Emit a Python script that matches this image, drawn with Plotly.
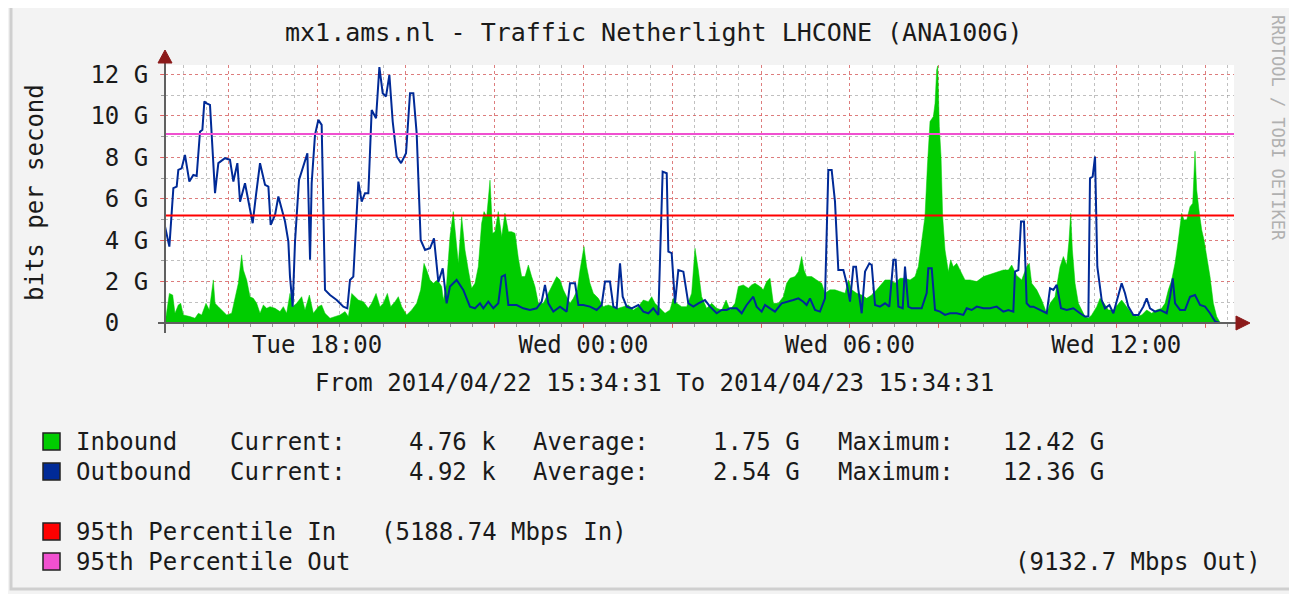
import pandas as pd
import plotly.graph_objects as go

# ---------------- data (minutes since start, Gbit/s) ----------------
START = pd.Timestamp("2014-04-22 14:34:31")

OUT_MIN = [
    0, 5.9, 11.3, 15.8, 18.0, 22.5, 27.0, 32.9, 38.3, 42.8,
    47.3, 50.5, 53.2, 56.3, 60.8, 63.1, 67.6, 72.1, 81.1, 87.8,
    92.4, 97.8, 101.4, 108.1, 112.6, 118.5, 123.0, 128.4, 135.2, 139.7,
    142.8, 148.7, 153.2, 157.7, 162.2, 166.7, 168.9, 172.5, 175.7, 181.1,
    187.0, 192.4, 196.0, 198.2, 202.7, 207.2, 211.7, 216.2, 223.0, 232.0,
    241.0, 246.4, 250.0, 254.5, 261.3, 265.8, 270.3, 274.8, 279.3, 285.2,
    289.7, 294.2, 298.7, 303.2, 307.7, 313.1, 319.0, 325.7, 331.1, 335.6,
    340.1, 345.5, 351.4, 358.1, 363.5, 369.4, 375.3,
    380.6, 385.1, 394.1, 403.1, 412.1, 418.9, 425.7, 430.2, 436.9, 443.7,
    450.4, 455.0, 459.4, 464.0, 475.2, 484.2, 493.2, 502.2, 509.0, 513.5,
    518.0, 524.8, 533.8, 542.8, 547.3, 554.1, 558.6, 565.3, 574.3, 583.3,
    590.1, 594.6, 601.3, 605.9, 610.4, 614.9, 618.5, 623.9, 630.6, 639.6,
    646.4, 653.2, 659.9, 666.7, 672.5, 678.0, 680.2, 684.7, 689.2, 693.7,
    700.5, 707.2, 714.0, 720.7, 729.7, 736.5, 745.5, 752.3, 759.0,
    763.5, 772.5, 779.3, 786.0, 795.0, 799.5, 806.3, 810.8, 817.6, 824.3,
    833.3, 842.3, 849.1, 855.9, 862.6, 867.1, 871.6, 878.4, 885.1, 891.9,
    896.4, 900.9, 905.4, 909.9, 916.7, 921.2, 925.7, 930.2, 933.8, 937.0,
    941.5, 946.0, 951.8, 955.0, 959.5, 966.2, 973.0, 978.8, 984.3, 987.4,
    991.0, 996.9, 1000.0, 1004.5, 1009.0, 1015.8, 1022.5, 1029.3, 1031.5, 1036.1,
    1040.6, 1047.3, 1054.1, 1060.8, 1069.9, 1078.9, 1083.4, 1090.1, 1096.9, 1105.9,
    1114.9, 1123.9, 1132.9, 1139.7, 1146.4, 1148.7, 1153.2, 1156.8, 1160.8, 1164.4,
    1168.9,
    1173.5, 1182.5, 1191.5, 1196.0, 1200.5, 1205.0, 1210.8, 1218.5, 1227.5, 1236.5,
    1243.3, 1247.8, 1250.0, 1253.6, 1256.8, 1259.9, 1265.8, 1270.3, 1276.2, 1281.6,
    1288.4, 1292.8, 1297.3, 1301.8, 1308.6, 1315.4, 1322.1, 1326.6, 1331.1, 1337.9,
    1344.6, 1353.7, 1358.2, 1361.8, 1365.0, 1371.7, 1378.4, 1385.2, 1391.9, 1398.7,
    1405.5, 1412.2, 1419.0, 1425.7, 1439.3,
]
OUT_GBPS = [
    4.66, 3.69, 6.51, 6.59, 7.39, 7.47, 8.12, 6.83, 7.15, 7.10,
    9.24, 9.33, 10.70, 10.61, 10.53, 9.0, 6.27, 7.72, 7.96, 7.88,
    6.83, 7.72, 5.86, 6.75, 5.86, 4.82, 6.19, 7.72, 6.67, 6.59,
    4.74, 5.22, 6.11, 5.46, 4.90, 3.93, 2.24, 0.79, 3.93, 6.91,
    7.63, 8.20, 3.05, 6.75, 9.08, 9.81, 9.57, 1.60, 1.35, 1.11,
    0.79, 0.71, 2.08, 2.24, 6.83, 5.86, 6.27, 6.27, 10.29, 9.89,
    12.36, 11.10, 10.94, 11.98, 9.73, 8.04, 7.72, 8.20, 11.10, 11.10,
    9.16, 4.01, 3.53, 3.61, 4.09, 1.98, 2.64,
    0.95, 1.76, 2.08, 1.60, 0.79, 0.71, 0.95, 0.71, 1.03, 0.71,
    0.95, 2.24, 2.32, 0.87, 0.87, 0.71, 0.63, 0.71, 1.03, 1.84,
    0.95, 0.55, 0.79, 0.55, 1.92, 1.92, 0.87, 0.87, 0.79, 0.63,
    0.87, 2.0, 2.0, 0.79, 0.71, 2.88, 1.27, 0.79, 0.71, 0.87,
    0.55, 0.47, 0.71, 0.39, 7.31, 7.23, 3.45, 3.37, 0.95, 2.56,
    2.48, 0.95, 0.79, 0.95, 1.11, 0.79, 0.47, 0.63, 0.63,
    0.71, 0.71, 0.47, 0.87, 1.27, 0.79, 0.55, 0.87, 0.71, 0.55,
    0.95, 1.03, 1.11, 1.19, 1.03, 0.87, 1.19, 0.63, 0.55, 1.19,
    7.39, 7.39, 5.86, 2.56, 2.56, 1.92, 1.03, 2.72, 2.72, 1.60,
    0.47, 2.48, 2.88, 2.80, 0.87, 0.79, 0.95, 0.79, 3.05, 3.05,
    0.79, 0.71, 2.72, 0.79, 0.71, 0.71, 0.71, 1.44, 2.64, 2.64,
    0.63, 0.55, 0.39, 0.47, 0.47, 0.39, 0.71, 0.63, 0.79, 0.71,
    0.71, 0.79, 0.55, 0.63, 0.55, 2.48, 2.56, 4.90, 4.90, 0.95,
    0.79,
    0.79, 0.63, 0.47, 1.68, 1.60, 1.84, 0.71, 0.63, 0.71, 0.47,
    0.31, 0.31, 6.99, 7.07, 8.04, 2.72, 1.11, 0.71, 0.87, 0.47,
    1.44, 1.92, 1.44, 0.79, 0.39, 0.39, 0.79, 1.19, 0.71, 0.55,
    0.63, 0.47, 1.27, 2.16, 0.95, 0.63, 0.63, 1.27, 1.35, 0.87,
    0.79, 0.47, 0.08, 0.0, 0.0,
]

IN_MIN = [
    0, 1.4, 5.9, 10.4, 13.5, 18.0, 21.2, 24.8, 33.8, 40.5, 45.1,
    49.6, 55.4, 59.9, 65.3, 67.6, 72.1, 76.6, 83.3, 90.1, 94.6,
    99.1, 103.6, 105.9, 110.4, 114.9, 119.4, 123.9, 128.4, 132.9, 137.4,
    141.9, 148.7, 155.4, 159.9, 164.4, 168.9, 172.5, 177.9, 184.7, 189.2,
    195.1, 200.5, 207.2, 211.7, 216.2, 223.0, 229.7, 236.5, 243.3, 247.8,
    252.3, 256.8, 261.3, 268.1, 274.8, 279.3, 285.2, 290.6, 295.1, 300.5,
    305.0, 310.8, 315.3, 319.9, 326.6, 333.4, 340.1, 345.5, 350.0, 353.6,
    358.1, 362.6, 368.1, 373.9,
    376.1, 380.6, 385.1, 389.6, 391.9, 396.4, 400.9, 405.4, 409.9, 414.4,
    418.9, 423.4, 427.9, 431.1, 434.7, 439.2, 442.8, 445.9, 450.4, 455.0,
    459.4, 464.0, 468.5, 473.0, 477.5, 482.0, 486.5, 491.0, 495.5, 500.0,
    504.5, 511.3, 518.0, 524.8, 529.3, 533.8, 538.3, 542.8, 547.3, 551.8,
    557.2, 560.8, 566.2, 569.8, 574.3, 578.8, 585.6, 592.3, 599.1, 605.9,
    612.6, 619.4, 626.1, 632.9, 639.6, 646.4, 653.2, 657.7, 662.2, 668.9,
    675.7, 682.4, 686.9, 691.5, 698.2, 705.0, 711.7, 716.2, 720.7, 725.2,
    732.0, 738.8, 745.5, 752.3, 758.2,
    763.5, 770.3, 774.8, 781.5, 788.3, 792.8, 797.3, 804.0, 808.5, 813.1,
    817.6, 822.1, 828.8, 835.6, 840.1, 844.6, 851.3, 855.9, 860.4, 863.5,
    867.1, 873.9, 880.6, 887.4, 891.9, 898.6, 905.4, 912.2, 919.0, 923.4,
    928.0, 934.7, 941.5, 948.2, 955.0, 961.7, 968.5, 973.0, 979.7, 986.5,
    993.3, 1000.0, 1006.8, 1013.5, 1018.0, 1022.5, 1027.0, 1030.2, 1033.8, 1038.3,
    1040.6, 1042.8, 1044.2, 1046.4, 1048.7, 1050.9, 1054.1, 1058.6, 1061.7, 1065.3,
    1069.9, 1074.3, 1081.1, 1087.9, 1096.9, 1105.9, 1112.6, 1119.4, 1126.2, 1132.9,
    1139.7, 1144.2,
    1150.9, 1157.7, 1164.4, 1168.0, 1171.2, 1178.0, 1184.7, 1191.5, 1196.0, 1202.7,
    1209.5, 1214.0, 1218.5, 1221.7, 1223.9, 1226.2, 1229.8, 1234.3, 1238.8, 1243.3,
    1247.8, 1252.3, 1259.1, 1263.6, 1269.0, 1274.8, 1281.6, 1288.4, 1292.8, 1299.6,
    1306.3, 1313.1, 1319.9, 1326.6, 1333.4, 1340.1, 1346.9, 1351.4, 1355.9, 1360.4,
    1364.9, 1369.4, 1373.9, 1377.1, 1380.7, 1385.2, 1388.8, 1391.9, 1394.2, 1397.8,
    1401.0, 1404.1, 1407.7, 1412.2, 1416.7, 1421.2, 1425.7, 1439.3,
]
IN_GBPS = [
    0.6, 0.31, 1.43, 1.35, 0.47, 0.87, 0.95, 0.39, 0.31, 0.23, 0.47,
    0.39, 0.95, 0.63, 2.08, 0.95, 0.79, 0.63, 0.39, 0.47, 1.19,
    1.92, 3.29, 2.56, 2.08, 1.27, 1.19, 0.95, 0.47, 0.87, 0.71,
    0.79, 0.71, 0.55, 0.79, 0.47, 1.43, 0.79, 0.95, 1.27, 0.63,
    1.35, 0.47, 0.79, 0.87, 0.47, 0.23, 0.31, 0.39, 0.55, 0.31,
    1.43, 1.27, 1.11, 1.03, 0.71, 0.95, 1.43, 0.79, 0.95, 1.43,
    0.79, 1.03, 1.27, 0.79, 0.39, 0.63, 0.95, 1.60, 2.88, 2.56,
    2.08, 1.92, 2.08, 1.76,
    1.11, 1.92, 4.17, 5.38, 4.49, 2.88, 5.14, 3.53, 2.56, 1.68,
    1.92, 2.72, 4.82, 5.38, 5.14, 6.90, 4.33, 4.41, 5.38, 4.17,
    5.30, 4.41, 4.41, 4.33, 3.13, 2.24, 2.24, 2.80, 2.24, 1.76,
    0.95, 0.95, 1.44, 1.92, 2.24, 2.08, 1.60, 1.27, 0.95, 1.19,
    1.60, 2.56, 3.69, 2.72, 1.92, 1.44, 1.19, 0.79, 0.87, 0.79,
    0.71, 0.79, 0.87, 0.63, 0.79, 1.11, 1.03, 1.27, 0.95, 0.71,
    0.47, 0.63, 1.19, 0.95, 0.79, 0.79, 1.44, 3.61, 2.56, 1.27,
    0.71, 0.95, 0.71, 0.63, 1.11,
    0.63, 0.95, 1.76, 1.84, 1.68, 1.84, 1.92, 1.76, 1.60, 2.0,
    2.16, 0.95, 0.95, 1.27, 1.92, 2.16, 2.24, 2.48, 3.21, 2.56,
    2.24, 2.24, 2.08, 1.92, 1.44, 1.60, 1.60, 1.52, 1.44, 2.08,
    1.60, 1.44, 1.35, 1.19, 1.35, 1.60, 1.92, 2.08, 2.08, 1.92,
    2.16, 2.16, 2.08, 2.24, 2.72, 3.85, 5.14, 7.55, 9.73, 9.97,
    10.61, 12.22, 12.42, 9.49, 8.04, 5.14, 3.53, 2.48, 3.05, 2.72,
    2.88, 2.56, 2.08, 2.08, 2.0, 2.24, 2.32, 2.40, 2.48, 2.56,
    2.56, 2.80,
    2.30, 2.08, 2.72, 2.88, 1.92, 1.60, 1.11, 0.47, 0.95, 1.27,
    2.72, 3.21, 2.80, 4.01, 5.30, 3.53, 1.92, 0.95, 0.63, 0.31,
    0.23, 0.39, 0.79, 1.19, 0.95, 0.63, 0.63, 0.95, 1.11, 0.79,
    0.47, 0.31, 0.39, 0.63, 0.47, 0.63, 0.71, 0.95, 1.60, 2.08,
    2.88, 4.01, 5.30, 4.98, 4.98, 5.62, 5.78, 8.30, 6.43, 5.30,
    4.49, 4.01, 3.21, 2.24, 0.95, 0.31, 0.03, 0.0,
]
assert len(OUT_MIN) == len(OUT_GBPS), (len(OUT_MIN), len(OUT_GBPS))
assert len(IN_MIN) == len(IN_GBPS), (len(IN_MIN), len(IN_GBPS))

PCT95_IN = 5.18874    # G
PCT95_OUT = 9.1327    # G

Y_TICKS = [0, 2, 4, 6, 8, 10, 12]
Y_TICKTEXT = ["0\u00a0\u00a0", "2 G", "4 G", "6 G", "8 G", "10 G", "12 G"]
X_TICKS = ["2014-04-22 16:00", "2014-04-22 18:00", "2014-04-22 20:00", "2014-04-22 22:00",
           "2014-04-23 00:00", "2014-04-23 02:00", "2014-04-23 04:00", "2014-04-23 06:00",
           "2014-04-23 08:00", "2014-04-23 10:00", "2014-04-23 12:00", "2014-04-23 14:00"]
X_TICKTEXT = ["", "Tue 18:00", "", "", "Wed 00:00", "", "", "Wed 06:00",
              "", "", "Wed 12:00", ""]

TITLE = "mx1.ams.nl - Traffic Netherlight LHCONE (ANA100G)"
XLABEL = "From 2014/04/22 15:34:31 To 2014/04/23 15:34:31"
YLABEL = "bits per second"
WATERMARK = "RRDTOOL / TOBI OETIKER"

LEGEND_ROWS = [
    ("Inbound", "4.76 k", "1.75 G", "12.42 G"),
    ("Outbound", "4.92 k", "2.54 G", "12.36 G"),
]
PCT_LABELS = ["95th Percentile In", "95th Percentile Out"]
PCT_TEXT = ["(5188.74 Mbps In)", "(9132.7 Mbps Out)"]

GREEN = "#00cc00"
BLUE = "#002a97"
RED = "#ff0000"
PINK = "#f050d0"

# ---------------- layout geometry (page pixels) ----------------
W, H = 1297, 594
OFF = 8                      # default page body margin of the html page
L, R, T, B = 165, 1234, 65, 323
PW, PH = R - L, B - T
FONT = "DejaVu Sans Mono"
TXT = "#1a1a1a"


def px(x):
    return (x - L) / PW


def py(y):
    return (B - y) / PH


def times(mins):
    return [START + pd.Timedelta(minutes=m) for m in mins]


fig = go.Figure()
fig.add_trace(go.Scatter(
    x=times(IN_MIN), y=IN_GBPS, mode="lines",
    line=dict(width=0.5, color=GREEN), fill="tozeroy", fillcolor=GREEN,
    hoverinfo="skip"))
fig.add_trace(go.Scatter(
    x=times(OUT_MIN), y=OUT_GBPS, mode="lines",
    line=dict(width=2, color=BLUE), hoverinfo="skip"))

shapes = []
# 95th percentile rules
shapes.append(dict(type="line", xref="paper", yref="y", x0=0, x1=1,
                   y0=PCT95_IN, y1=PCT95_IN, line=dict(color=RED, width=2)))
shapes.append(dict(type="line", xref="paper", yref="y", x0=0, x1=1,
                   y0=PCT95_OUT, y1=PCT95_OUT, line=dict(color=PINK, width=2)))
# axes lines
shapes.append(dict(type="line", xref="paper", yref="paper",
                   x0=px(165), x1=px(165), y0=py(333), y1=py(58),
                   line=dict(color="#606060", width=2)))
shapes.append(dict(type="line", xref="paper", yref="paper",
                   x0=px(158), x1=px(1240), y0=py(323), y1=py(323),
                   line=dict(color="#606060", width=2)))
# arrows
shapes.append(dict(type="path", xref="paper", yref="paper",
                   path=f"M {px(158)},{py(63)} L {px(172)},{py(63)} L {px(165)},{py(50)} Z",
                   fillcolor="#8b1a1a", line=dict(color="#8b1a1a", width=1)))
shapes.append(dict(type="path", xref="paper", yref="paper",
                   path=f"M {px(1236)},{py(316)} L {px(1236)},{py(330)} L {px(1250)},{py(323)} Z",
                   fillcolor="#8b1a1a", line=dict(color="#8b1a1a", width=1)))
# outer frame
shapes.append(dict(type="rect", xref="paper", yref="paper", layer="below",
                   x0=px(11), x1=px(1292), y0=py(589), y1=py(4),
                   line=dict(color="#cfcfcf", width=3)))
# legend swatches
for y0, col in [(433, GREEN), (463, BLUE), (523, RED), (553, PINK)]:
    shapes.append(dict(type="rect", xref="paper", yref="paper",
                       x0=px(43), x1=px(60), y0=py(y0 + 17), y1=py(y0),
                       fillcolor=col, line=dict(color="#222222", width=1.5)))

annotations = []


def ann(text, x, y, xanchor="left", size=24, color=TXT, angle=0):
    annotations.append(dict(text=text, xref="paper", yref="paper",
                            x=px(x), y=py(y), xanchor=xanchor, yanchor="middle",
                            showarrow=False, textangle=angle,
                            font=dict(family=FONT, size=size, color=color)))


ann(TITLE, 654, 32, "center", size=25)
ann(XLABEL, 654, 383, "center", size=24)
ann(YLABEL, 35, 193, "center", size=24, angle=-90)
ann(WATERMARK, 1278, 128, "center", size=17, color="#b0b0b0", angle=90)

for i, (name, cur, avg, mx) in enumerate(LEGEND_ROWS):
    yy = 442 + 30 * i
    ann(name, 74, yy, "left")
    ann("Current:", 228, yy, "left")
    ann(cur, 498, yy, "right")
    ann("Average:", 531, yy, "left")
    ann(avg, 802, yy, "right")
    ann("Maximum:", 836, yy, "left")
    ann(mx, 1106, yy, "right")

ann(PCT_LABELS[0], 74, 532, "left")
ann(PCT_TEXT[0], 379, 532, "left")
ann(PCT_LABELS[1], 74, 562, "left")
ann(PCT_TEXT[1], 1263, 562, "right")

x_end = START + pd.Timedelta(minutes=1444.6)

fig.update_layout(
    width=W - OFF, height=H - OFF,
    margin=dict(l=L - OFF, r=W - R, t=T - OFF, b=H - B, pad=0),
    paper_bgcolor="#f3f3f3", plot_bgcolor="#ffffff",
    showlegend=False,
    shapes=shapes, annotations=annotations,
    font=dict(family=FONT, size=24, color=TXT),
    xaxis=dict(
        type="date", range=[START, x_end], showline=False, zeroline=False,
        tickmode="array", tickvals=X_TICKS, ticktext=X_TICKTEXT,
        showgrid=True, gridcolor="rgba(240,80,80,0.6)", griddash="dot", gridwidth=1,
        ticks="outside", ticklen=4, tickcolor="rgba(240,80,80,0.8)",
        ticklabelstandoff=-4,
        tickfont=dict(family=FONT, size=24, color=TXT),
        minor=dict(dtick=1800000, tick0="2014-04-22 00:00:00", showgrid=True,
                   gridcolor="rgba(140,140,140,0.55)", griddash="dot", gridwidth=1,
                   ticks="outside", ticklen=3, tickcolor="#999999"),
    ),
    yaxis=dict(
        range=[0, 12.46], showline=False, zeroline=False,
        tickmode="array", tickvals=Y_TICKS, ticktext=Y_TICKTEXT,
        showgrid=True, gridcolor="rgba(240,80,80,0.6)", griddash="dot", gridwidth=1,
        ticks="outside", ticklen=4, tickcolor="rgba(240,80,80,0.8)",
        ticklabelstandoff=7,
        tickfont=dict(family=FONT, size=24, color=TXT),
        minor=dict(dtick=1, showgrid=True, gridcolor="rgba(140,140,140,0.55)",
                   griddash="dot", gridwidth=1, ticks="outside", ticklen=3,
                   tickcolor="#999999"),
    ),
)

fig.write_html("out.html")
